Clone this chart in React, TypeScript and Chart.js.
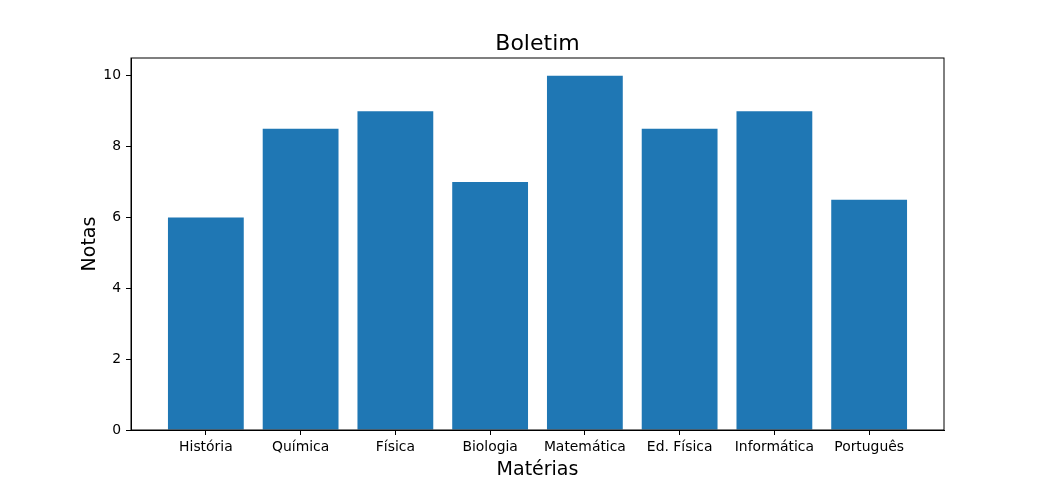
import React, { useEffect, useRef } from "react";
import { Chart, registerables } from "chart.js";

Chart.register(...registerables);

const materias = ["História", "Química", "Física", "Biologia", "Matemática", "Ed. Física", "Informática", "Português"];
const notas = [6, 8.5, 9, 7, 10, 8.5, 9, 6.5];
const yTicks = [0, 2, 4, 6, 8, 10];
const titleText = "Boletim";
const xLabel = "Matérias";
const yLabel = "Notas";

const FONT = "'DejaVu Sans', sans-serif";

const textPlugin = {
  id: "mplText",
  afterDraw(chart: any) {
    const { ctx, chartArea } = chart;
    const { left, right, top, bottom } = chartArea;
    ctx.save();
    // frame spines
    ctx.strokeStyle = "#000";
    ctx.lineWidth = 1;
    ctx.strokeRect(left, top, right - left, bottom - top);
    ctx.fillStyle = "#000";
    // title
    ctx.font = `22px ${FONT}`;
    ctx.textAlign = "center";
    ctx.textBaseline = "alphabetic";
    ctx.fillText(titleText, (left + right) / 2, 50);
    // x label
    ctx.font = `19px ${FONT}`;
    ctx.fillText(xLabel, (left + right) / 2, 475);
    // y label
    ctx.translate(95, (top + bottom) / 2);
    ctx.rotate(-Math.PI / 2);
    ctx.fillText(yLabel, 0, 0);
    ctx.restore();
  },
};

export default function App() {
  const ref = useRef<HTMLCanvasElement>(null);
  useEffect(() => {
    const canvas = ref.current!;
    const chart = new Chart(canvas, {
      type: "bar",
      data: {
        datasets: [
          {
            data: notas.map((v, i) => ({ x: i, y: v })),
            backgroundColor: "#1f77b4",
            borderWidth: 0,
            barPercentage: 0.8,
            categoryPercentage: 1,
          },
        ],
      },
      options: {
        responsive: false,
        animation: false,
        layout: { padding: { left: 0, top: 58, right: 105, bottom: 0 } },
        plugins: { legend: { display: false }, tooltip: { enabled: false }, title: { display: false } },
        scales: {
          x: {
            type: "linear",
            min: -0.79,
            max: 7.79,
            offset: false,
            grid: { offset: false, drawOnChartArea: false, color: "#000", tickLength: 5, lineWidth: 1 },
            border: { display: true, color: "#000", width: 1 },
            afterBuildTicks: (scale: any) => {
              scale.ticks = materias.map((_, i) => ({ value: i }));
            },
            afterFit: (scale: any) => {
              scale.height = 53;
            },
            ticks: {
              autoSkip: false,
              maxRotation: 0,
              minRotation: 0,
              padding: 4,
              color: "#000",
              font: { family: FONT, size: 13.9 },
              callback: (v: any) => materias[Math.round(Number(v))] ?? "",
            },
          },
          y: {
            type: "linear",
            min: 0,
            max: 10.5,
            grid: { drawOnChartArea: false, color: "#000", tickLength: 5, lineWidth: 1 },
            border: { display: true, color: "#000", width: 1 },
            afterBuildTicks: (scale: any) => {
              scale.ticks = yTicks.map((v) => ({ value: v }));
            },
            afterFit: (scale: any) => {
              scale.width = 131;
            },
            ticks: {
              padding: 5,
              color: "#000",
              font: { family: FONT, size: 13.9 },
              callback: (v: any) => String(v),
            },
          },
        },
      },
      plugins: [textPlugin],
    } as any);
    return () => chart.destroy();
  }, []);
  return (
    <div style={{ position: "absolute", left: 0, top: 0, width: 1049, height: 483, background: "#fff" }}>
      <canvas ref={ref} width={1049} height={483} style={{ display: "block" }} />
    </div>
  );
}
